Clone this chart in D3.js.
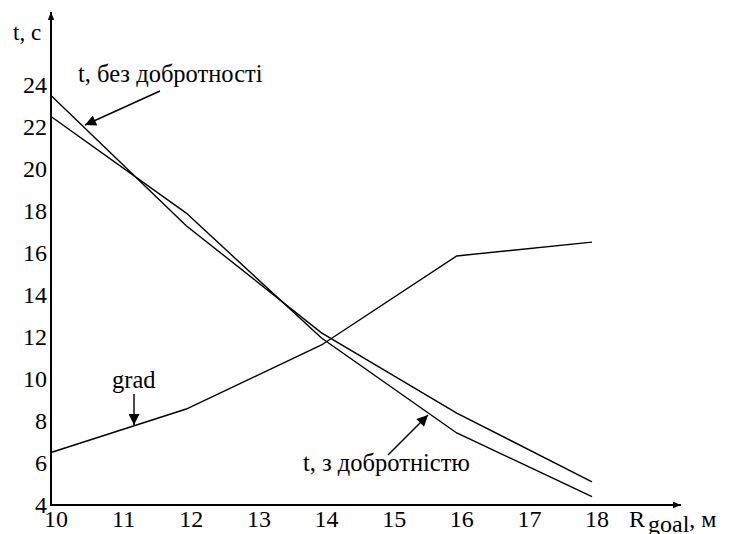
<!DOCTYPE html>
<html>
<head>
<meta charset="utf-8">
<script src="https://cdn.jsdelivr.net/npm/d3@7"></script>
<style>
  html, body { margin: 0; padding: 0; background: #fff; }
</style>
</head>
<body>
<svg id="chart" width="731" height="534" font-family="'Liberation Serif', 'Times New Roman', serif"></svg>
<script>
const xValues = [10, 12, 14, 16, 18];
const tWithout = [23.5, 17.3, 12.2, 8.38, 5.1];   // t, без добротності
const tWith    = [22.5, 17.9, 11.95, 7.43, 4.4];  // t, з добротністю
const grad     = [6.5, 8.57, 11.62, 15.86, 16.52];
const xTicks = [10, 11, 12, 13, 14, 15, 16, 17, 18];
const yTicks = [4, 6, 8, 10, 12, 14, 16, 18, 20, 22, 24];

const FONT = "Liberation Serif";
const svg = d3.select("#chart");
const x = d3.scaleLinear().domain([10, 18]).range([51, 592]);
const y = d3.scaleLinear().domain([4, 24]).range([505, 85]);

// arrow marker defs
const defs = svg.append("defs");
defs.append("marker").attr("id", "axArrow").attr("viewBox", "0 0 10 10")
  .attr("refX", 10).attr("refY", 5).attr("markerUnits", "userSpaceOnUse")
  .attr("markerWidth", 14).attr("markerHeight", 8).attr("orient", "auto")
  .append("path").attr("d", "M0,1 L10,5 L0,9 Z").attr("fill", "#000");
defs.append("marker").attr("id", "annArrow").attr("viewBox", "0 0 10 10")
  .attr("refX", 10).attr("refY", 5).attr("markerUnits", "userSpaceOnUse")
  .attr("markerWidth", 17).attr("markerHeight", 11).attr("orient", "auto")
  .append("path").attr("d", "M0,0 L10,5 L0,10 Z").attr("fill", "#000");

// axes
svg.append("line").attr("x1", x(10)).attr("y1", y(4)).attr("x2", x(10)).attr("y2", 12)
  .attr("stroke", "#000").attr("stroke-width", 2).attr("marker-end", "url(#axArrow)");
svg.append("line").attr("x1", x(10) - 1).attr("y1", y(4)).attr("x2", 681).attr("y2", y(4))
  .attr("stroke", "#000").attr("stroke-width", 2).attr("marker-end", "url(#axArrow)");

// tick labels
svg.append("g").selectAll("text").data(yTicks).join("text")
  .attr("font-family", FONT)
  .attr("x", 47).attr("y", d => y(d) + 8)
  .attr("text-anchor", "end").attr("font-size", 24).text(d => d);
svg.append("g").selectAll("text").data(xTicks).join("text")
  .attr("font-family", FONT)
  .attr("x", d => x(d) + 5).attr("y", 527)
  .attr("text-anchor", "middle").attr("font-size", 24).text(d => d);

// axis titles
svg.append("text").attr("font-family", FONT).attr("x", 13).attr("y", 40).attr("font-size", 23).text("t, с");
const rt = svg.append("text").attr("font-family", FONT).attr("x", 629).attr("y", 527).attr("font-size", 24);
rt.append("tspan").text("R");
rt.append("tspan").attr("dx", 3).attr("dy", 5).text("goal");
rt.append("tspan").attr("dy", -5).text(", м");

// lines
const line = d3.line().x((d, i) => x(xValues[i])).y(d => y(d));
[tWithout, tWith, grad].forEach(s => {
  svg.append("path").datum(s).attr("d", line)
    .attr("fill", "none").attr("stroke", "#000").attr("stroke-width", 1.4);
});

// annotations
svg.append("text").attr("font-family", FONT).attr("x", 78).attr("y", 82).attr("font-size", 24.5).text("t, без добротності");
svg.append("line").attr("x1", 160).attr("y1", 91).attr("x2", 85).attr("y2", 125)
  .attr("stroke", "#000").attr("stroke-width", 1.4).attr("marker-end", "url(#annArrow)");

svg.append("text").attr("font-family", FONT).attr("x", 112).attr("y", 388).attr("font-size", 24.5).text("grad");
svg.append("line").attr("x1", 134).attr("y1", 394).attr("x2", 134).attr("y2", 425)
  .attr("stroke", "#000").attr("stroke-width", 1.4).attr("marker-end", "url(#annArrow)");

svg.append("text").attr("font-family", FONT).attr("x", 303).attr("y", 471).attr("font-size", 24.5).text("t, з добротністю");
svg.append("line").attr("x1", 388).attr("y1", 455).attr("x2", 428).attr("y2", 415)
  .attr("stroke", "#000").attr("stroke-width", 1.4).attr("marker-end", "url(#annArrow)");
</script>
</body>
</html>
